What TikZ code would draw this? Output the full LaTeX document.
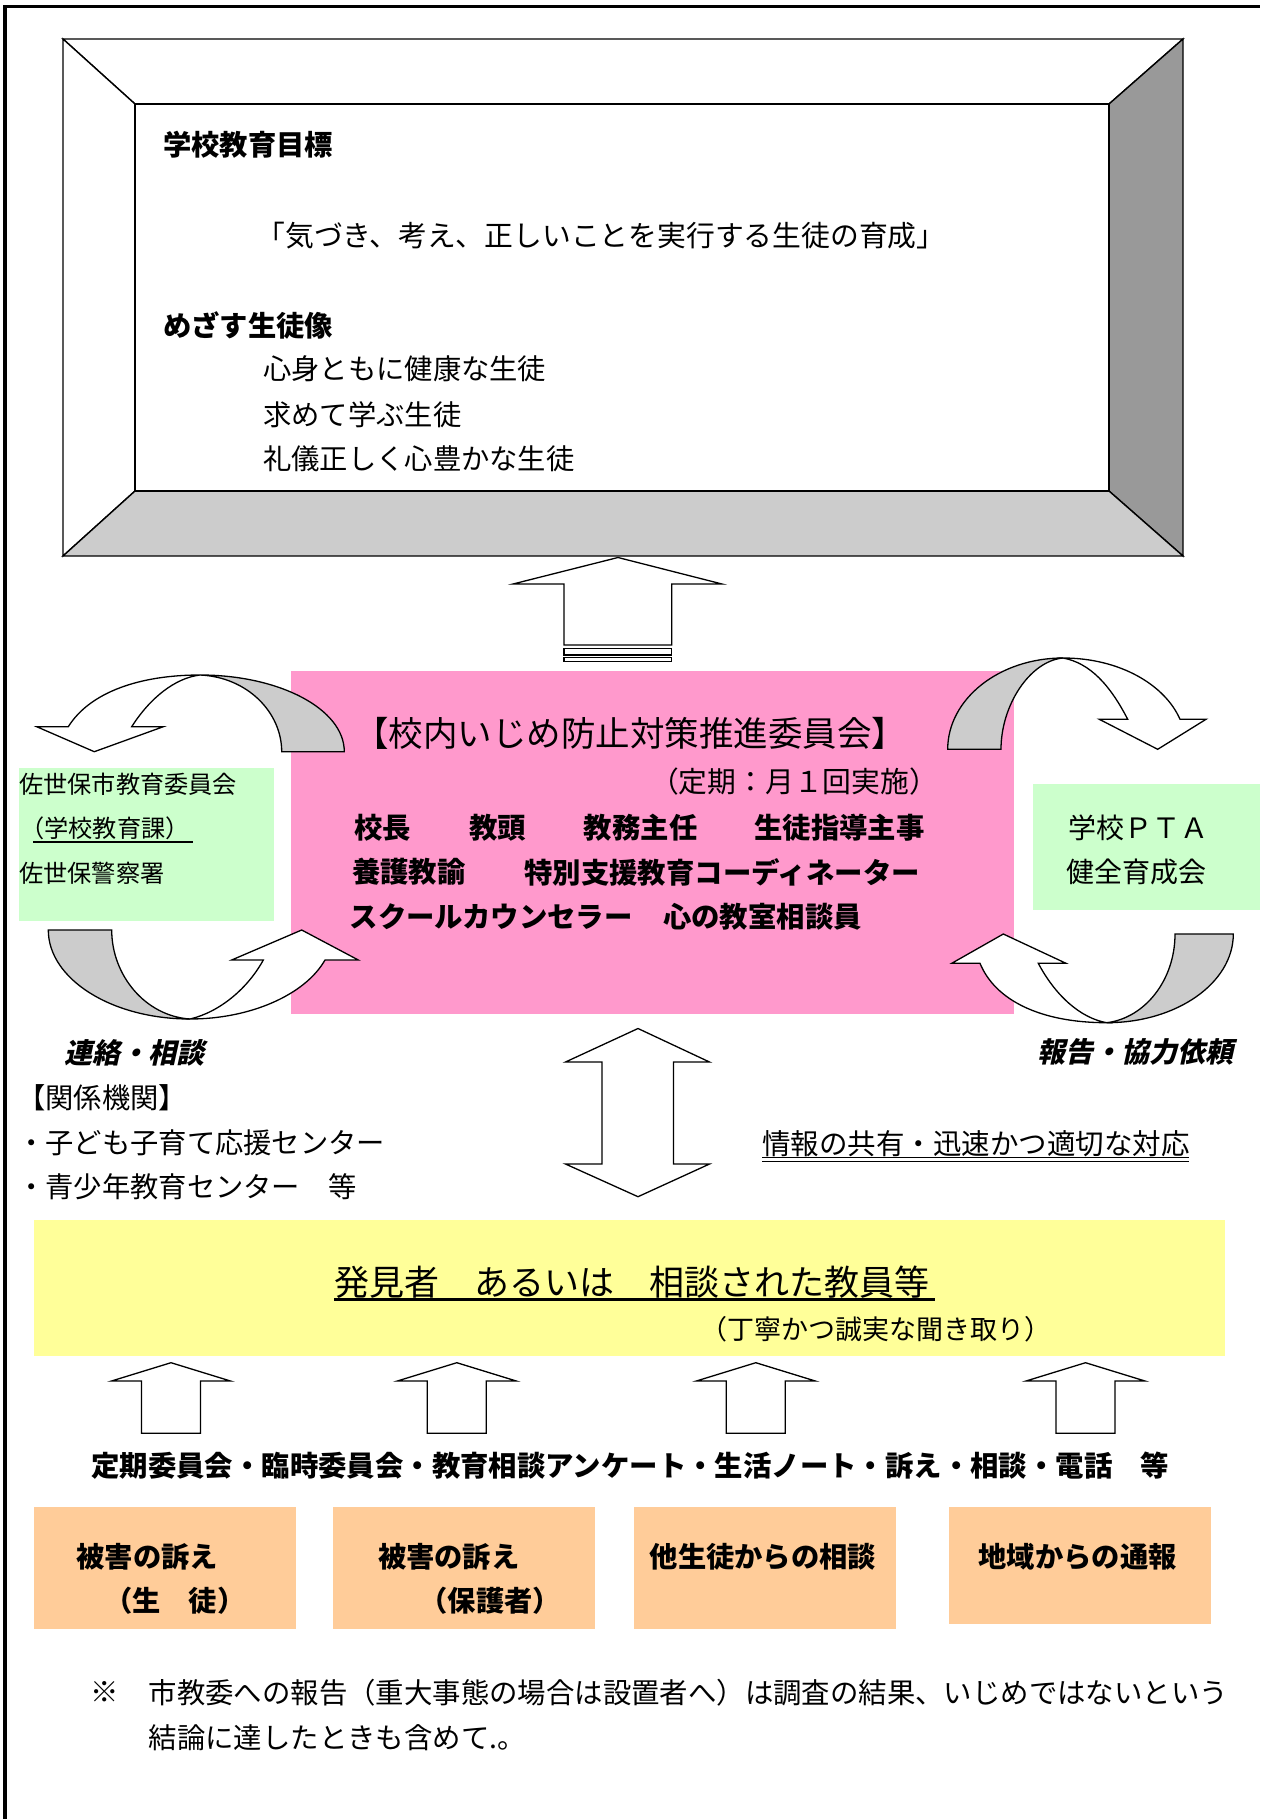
\documentclass[tikz,border=0pt]{standalone}
\usepackage{fontspec}
\setmainfont{Noto Sans CJK JP}
\newfontfamily\jpslant{Noto Sans CJK JP}[FakeSlant=0.22]
\definecolor{pinkbg}{HTML}{FF99CC}
\definecolor{greenbg}{HTML}{CCFFCC}
\definecolor{yellowbg}{HTML}{FFFF99}
\definecolor{orangebg}{HTML}{FFCC99}
\definecolor{bevdark}{HTML}{999999}
\definecolor{bevlight}{HTML}{CCCCCC}
\begin{document}
\begin{tikzpicture}[x=1pt,y=-1pt,
  txt/.style={inner sep=0pt,anchor=west,font=\fontsize{#1}{#1}\selectfont},
  txt/.default=28.3,
  txtb/.style={inner sep=0pt,anchor=west,font=\fontsize{#1}{#1}\selectfont\bfseries},
  txtb/.default=28.3,
  txtc/.style={inner sep=0pt,anchor=center,font=\fontsize{#1}{#1}\selectfont},
  txtc/.default=28.3,
  txtbc/.style={inner sep=0pt,anchor=center,font=\fontsize{#1}{#1}\selectfont\bfseries},
  txtbc/.default=28.3,
  slanted/.style={inner sep=0pt,anchor=west,font=\fontsize{28}{28}\selectfont\jpslant\bfseries},
  blk/.style={draw=black,fill=white,line width=1.3pt,line join=miter},
  blkgray/.style={draw=black,fill=bevlight,line width=1.3pt,line join=miter},
  bevel/.style={draw=black,line width=1.4pt,line join=miter}
]
\useasboundingbox (0,0) rectangle (1260,1819);
\fill[white] (0,0) rectangle (1260,1819);

% page border
\draw[line width=3.5pt,line join=miter] (5,1819) -- (5,6.5) -- (1260,6.5);

% ---------- bevel frame ----------
\filldraw[bevel,fill=white] (63,39) -- (1183,39) -- (1109,104) -- (135,104) -- cycle;
\filldraw[bevel,fill=white] (63,39) -- (135,104) -- (135,491) -- (63,556) -- cycle;
\filldraw[bevel,fill=bevdark] (1183,39) -- (1183,556) -- (1109,491) -- (1109,104) -- cycle;
\filldraw[bevel,fill=bevlight] (63,556) -- (135,491) -- (1109,491) -- (1183,556) -- cycle;
\filldraw[bevel,fill=white] (135,104) rectangle (1109,491);

\node[txtb] (goal) at (163,145) {学校教育目標};
\node[txtc=28.8] (motto) at (601,236) {「気づき、考え、正しいことを実行する生徒の育成」};
\node[txtb] (image) at (163,325) {めざす生徒像};
\node[txt] (img1) at (263,369) {心身ともに健康な生徒};
\node[txt] (img2) at (263,415) {求めて学ぶ生徒};
\node[txt] (img3) at (263,459) {礼儀正しく心豊かな生徒};

% ---------- up arrow to frame ----------
\draw[blk] (564,645) -- (564,584) -- (513,584) -- (618,557.5) -- (722,584) -- (671.7,584) -- (671.7,645) -- cycle;
\draw[blk,line width=1.1pt] (564,648.3) rectangle (671.7,655);
\draw[blk,line width=1.1pt] (564,657.3) rectangle (671.7,661.7);

% ---------- coloured boxes ----------
\fill[pinkbg] (291,671) rectangle (1014,1014);
\fill[greenbg] (19,768) rectangle (274,921);
\fill[greenbg] (1033,784) rectangle (1260,910);

% ---------- curved arrows, left ----------
\draw[blkgray] (200,675) .. controls (279.5,675) and (344.3,709) .. (344.3,751.7)
  -- (281.7,751.7) .. controls (281.7,712) and (247,677) .. (200,675) -- cycle;
\draw[blk] (68.3,726.7) -- (36.7,726.7) -- (94.3,751.7) -- (163.3,726.7) -- (131.7,726.7)
  .. controls (150,698) and (175,678) .. (200,675)
  .. controls (140,675) and (90,692) .. (68.3,726.7) -- cycle;
\draw[blkgray] (48.3,930) -- (111.7,930) .. controls (111.7,975) and (145,1016) .. (190,1019)
  .. controls (111.6,1019) and (48.3,979) .. (48.3,930) -- cycle;
\draw[blk] (190,1019) .. controls (250,1019) and (305,995) .. (325,960) -- (358.3,960)
  -- (301.7,930) -- (231.7,960) -- (263.3,960)
  .. controls (248,988) and (220,1012) .. (190,1019) -- cycle;

% ---------- curved arrows, right ----------
\draw[blkgray] (947.7,749.3) -- (1001,749.3) .. controls (1001,705) and (1030,661) .. (1063,658)
  .. controls (999.3,658) and (947.7,698.9) .. (947.7,749.3) -- cycle;
\draw[blk] (1063,658) .. controls (1120,658) and (1165,685) .. (1180,719.3) -- (1206,719.3)
  -- (1157.7,749.3) -- (1099.3,719.3) -- (1127.7,719.3)
  .. controls (1110,685) and (1090,663) .. (1063,658) -- cycle;
\draw[blkgray] (1175,934) -- (1233.3,934) .. controls (1233.3,983) and (1176.6,1022.7) .. (1106.7,1022.7)
  .. controls (1145,1018) and (1175,980) .. (1175,934) -- cycle;
\draw[blk] (1106.7,1022.7) .. controls (1040,1022.7) and (995,1000) .. (980,963.3) -- (951.7,963.3)
  -- (1003.3,934) -- (1066,963.3) -- (1038.3,963.3)
  .. controls (1055,995) and (1080,1018) .. (1106.7,1022.7) -- cycle;

% ---------- committee text ----------
\node[txtc=34.5] (title) at (630,733) {【校内いじめ防止対策推進委員会】};
\node[txtc=28.8] (freq) at (794,782) {（定期：月１回実施）};
\node[txtb=28.4] (m1) at (354,828) {校長};
\node[txtb=28.4] (m2) at (469,828) {教頭};
\node[txtb=28.4] (m3) at (583.6,828) {教務主任};
\node[txtb=28.4] (m4) at (754,828) {生徒指導主事};
\node[txtb=28.4] (m5) at (351.8,872) {養護教諭};
\node[txtb=28.4] (m6) at (524,872) {特別支援教育コーディネーター};
\node[txtb=28.4] (m7) at (349.4,917) {スクールカウンセラー};
\node[txtb=28.4] (m8) at (662.8,917) {心の教室相談員};

% ---------- left green text ----------
\node[txt=24.2] (boe) at (19,784) {佐世保市教育委員会};
\node[txtc=24.2] (boe2) at (105,828) {（学校教育課）};
\coordinate (ulA) at (33,842);
\coordinate (ulB) at (193,842);
\draw[line width=2pt] (ulA) -- (ulB);
\node[txt=24.2] (police) at (19,873.3) {佐世保警察署};

% ---------- right green text ----------
\node[txt=28] (pta1) at (1068,828.3) {学校ＰＴＡ};
\node[txt=28] (pta2) at (1066.7,871.7) {健全育成会};

% ---------- italic labels ----------
\node[slanted] (lab1) at (64,1053) {連絡・相談};
\node[slanted] (lab2) at (1037,1052) {報告・協力依頼};

% ---------- related organisations ----------
\node[txt] (rel0) at (17,1098) {【関係機関】};
\node[txt] (rel1) at (17,1143) {・子ども子育て応援センター};
\node[txt] (rel2) at (17,1187) {・青少年教育センター　等};

% ---------- double arrow ----------
\draw[blk] (638,1028.5) -- (709.5,1062) -- (673.5,1062) -- (673.5,1164) -- (709.5,1164)
  -- (638,1196.7) -- (565.5,1164) -- (602,1164) -- (602,1062) -- (565.5,1062) -- cycle;

\node[txt=28.5] (share) at (762,1144) {情報の共有・迅速かつ適切な対応};
\coordinate (s1) at (762,1157.5);
\coordinate (s2) at (1189,1157.5);
\coordinate (s3) at (762,1161.5);
\coordinate (s4) at (1189,1161.5);
\draw[line width=1.6pt] (s1) -- (s2);
\draw[line width=1pt] (s3) -- (s4);

% ---------- yellow box ----------
\fill[yellowbg] (34,1219.5) rectangle (1224.5,1356);
\node[txt=35] (finder) at (334,1282) {発見者　あるいは　相談された教員等};
\coordinate (f1) at (334,1299.5);
\coordinate (f2) at (935,1299.5);
\draw[line width=2.4pt] (f1) -- (f2);
\node[txtc=27] (careful) at (876,1329) {（丁寧かつ誠実な聞き取り）};

% ---------- four up arrows ----------
\foreach \cx [count=\i] in {171,456.8,755.8,1085.5} {
  \draw[blk] (\cx-29.5,1433.3) -- (\cx-29.5,1381) -- (\cx-59.5,1381) -- (\cx,1362.7)
    -- (\cx+59.5,1381) -- (\cx+29.5,1381) -- (\cx+29.5,1433.3) -- cycle;
}

\node[txtb=28.4] (means) at (91,1466) {定期委員会・臨時委員会・教育相談アンケート・生活ノート・訴え・相談・電話　等};

% ---------- orange boxes ----------
\fill[orangebg] (33.8,1506.7) rectangle (296,1628.7);
\fill[orangebg] (332.8,1506.7) rectangle (595,1628.7);
\fill[orangebg] (634.2,1506.7) rectangle (896.3,1628.7);
\fill[orangebg] (948.6,1506.7) rectangle (1210.6,1623.7);

\node[txtb] (o1a) at (76.4,1557) {被害の訴え};
\node[txtbc] (o1b) at (174.8,1601) {（生　徒）};
\node[txtb] (o2a) at (377.8,1557) {被害の訴え};
\node[txtbc] (o2b) at (490.3,1601) {（保護者）};
\node[txtb] (o3) at (649.5,1557) {他生徒からの相談};
\node[txtb] (o4) at (978.3,1557) {地域からの通報};

% ---------- footnote ----------
\node[txt=28.4] (note0) at (90,1692.3) {※};
\node[txt=28.4] (note1) at (148.5,1692.3) {市教委への報告（重大事態の場合は設置者へ）は調査の結果、いじめではないという};
\node[txt=28.4] (note2) at (148.5,1737.7) {結論に達したときも含めて.。};
\end{tikzpicture}
\end{document}
